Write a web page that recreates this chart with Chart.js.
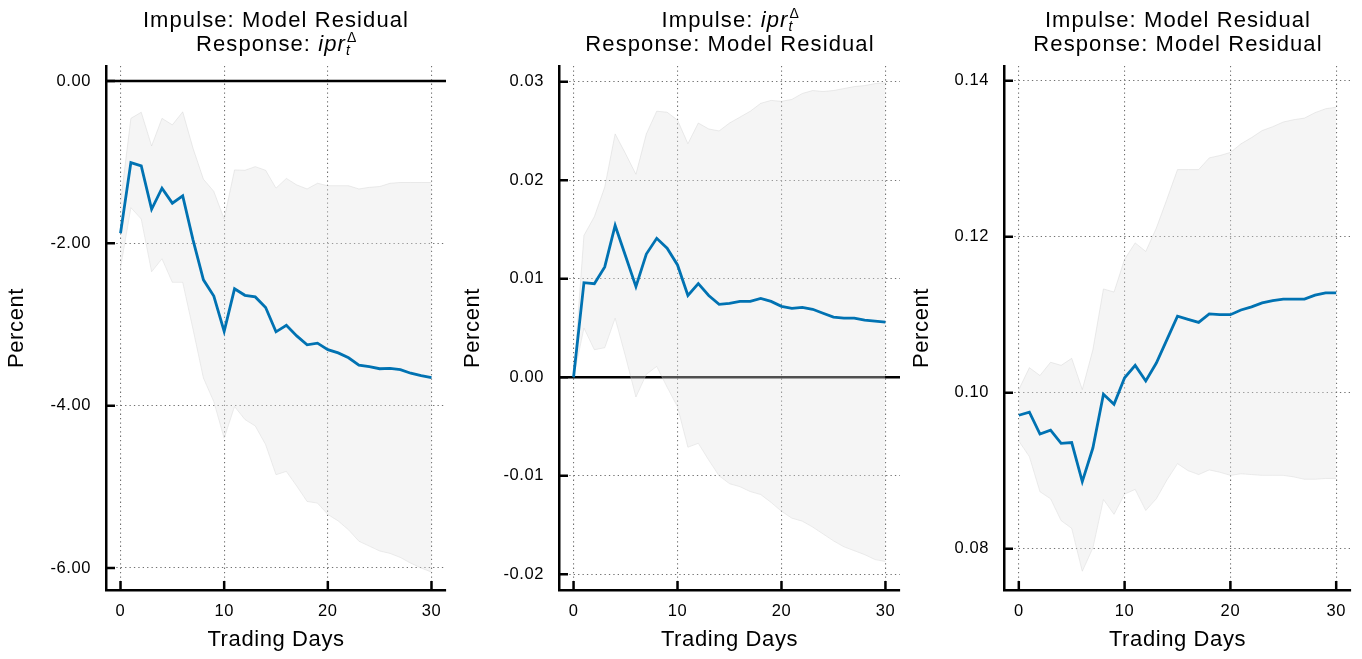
<!DOCTYPE html>
<html>
<head>
<meta charset="utf-8">
<script src="https://cdn.jsdelivr.net/npm/chart.js@4.4.1/dist/chart.umd.min.js"></script>
<style>
  html, body { margin: 0; padding: 0; background: #fff; }
  body { width: 1362px; height: 659px; position: relative; overflow: hidden; font-family: 'Liberation Sans', Arial, Helvetica, sans-serif; }
  canvas { position: absolute; top: 0; }
  .title { position: absolute; top: 8px; width: 420px; text-align: center; font-size: 22px; line-height: 24px; letter-spacing: 1.1px; color: #000; white-space: nowrap; }
  .ss { position: relative; display: inline-block; width: 10px; height: 0; }
  .ss span { position: absolute; left: 0; font-size: 14px; line-height: 14px; letter-spacing: 0; }
  .ss .sup { top: -21px; left: 1px; }
  .ss .sub { top: -8px; font-style: italic; }
</style>
</head>
<body>
<canvas id="c1" width="456" height="659" style="left:0px"></canvas>
<canvas id="c2" width="454" height="659" style="left:456px"></canvas>
<canvas id="c3" width="457" height="659" style="left:905px"></canvas>

<div class="title" style="left:66px">Impulse: Model Residual<br>Response: <i>ipr</i><span class="ss"><span class="sup">Δ</span><span class="sub">t</span></span></div>
<div class="title" style="left:520px">Impulse: <i>ipr</i><span class="ss"><span class="sup">Δ</span><span class="sub">t</span></span><br>Response: Model Residual</div>
<div class="title" style="left:968px">Impulse: Model Residual<br>Response: Model Residual</div>

<script>
// horizon (trading days)
const days = [0,1,2,3,4,5,6,7,8,9,10,11,12,13,14,15,16,17,18,19,20,21,22,23,24,25,26,27,28,29,30];
const xTicks = [0, 10, 20, 30];

// Panel 1: impulse residual -> response ipr
const resp1  = [-1.875,-1.005,-1.046,-1.58,-1.32,-1.505,-1.415,-1.96,-2.45,-2.65,-3.085,-2.56,-2.64,-2.66,-2.79,-3.09,-3.01,-3.14,-3.25,-3.23,-3.31,-3.35,-3.41,-3.50,-3.52,-3.545,-3.54,-3.555,-3.60,-3.63,-3.655];
const upper1 = [-1.5,-0.46,-0.385,-0.80,-0.46,-0.54,-0.38,-0.83,-1.21,-1.36,-1.70,-1.095,-1.10,-1.055,-1.10,-1.32,-1.20,-1.28,-1.33,-1.26,-1.29,-1.29,-1.29,-1.33,-1.31,-1.30,-1.26,-1.25,-1.25,-1.25,-1.25];
const lower1 = [-2.3,-1.56,-1.70,-2.35,-2.19,-2.48,-2.48,-3.06,-3.66,-3.95,-4.40,-4.01,-4.17,-4.25,-4.48,-4.85,-4.81,-4.99,-5.18,-5.20,-5.34,-5.42,-5.53,-5.67,-5.73,-5.79,-5.82,-5.87,-5.94,-6.00,-6.05];
const yTicks1 = [-6, -4, -2, 0];

// Panel 2: impulse ipr -> response residual
const resp2  = [0.0,0.0096,0.0095,0.0112,0.0154,0.0123,0.0092,0.0125,0.0141,0.0131,0.0114,0.0083,0.0095,0.0083,0.0074,0.0075,0.0077,0.0077,0.0080,0.0077,0.0072,0.0070,0.0071,0.0069,0.0065,0.0061,0.0060,0.0060,0.0058,0.0057,0.0056];
const upper2 = [0.0,0.0144,0.0163,0.0193,0.0247,0.0227,0.0206,0.0247,0.0270,0.0269,0.0261,0.0237,0.0258,0.0252,0.0250,0.0258,0.0264,0.0270,0.0278,0.0281,0.0280,0.0282,0.0288,0.0291,0.0290,0.0291,0.0293,0.0295,0.0296,0.0298,0.0299];
const lower2 = [0.0,0.0050,0.0028,0.0030,0.0060,0.0021,-0.0020,0.0003,0.0011,-0.0010,-0.0030,-0.0071,-0.0067,-0.0084,-0.0100,-0.0108,-0.0111,-0.0116,-0.0119,-0.0127,-0.0136,-0.0143,-0.0146,-0.0152,-0.0159,-0.0166,-0.0172,-0.0176,-0.0180,-0.0185,-0.0187];
const yTicks2 = [-0.02, -0.01, 0, 0.01, 0.02, 0.03];

// Panel 3: impulse residual -> response residual
const resp3  = [0.0971,0.0975,0.0947,0.0952,0.0935,0.0936,0.0886,0.0929,0.0998,0.0985,0.1019,0.1035,0.1015,0.1038,0.1068,0.1098,0.1094,0.1090,0.1101,0.1100,0.1100,0.1106,0.1110,0.1115,0.1118,0.1120,0.1120,0.1120,0.1125,0.1128,0.1128];
const upper3 = [0.1004,0.1032,0.1022,0.1039,0.1035,0.1044,0.1004,0.1055,0.1133,0.1129,0.1171,0.1192,0.1181,0.1211,0.1248,0.1286,0.1286,0.1286,0.1301,0.1304,0.1308,0.1319,0.1327,0.1336,0.1341,0.1347,0.1350,0.1352,0.1359,0.1364,0.1366];
const lower3 = [0.0938,0.0918,0.0873,0.0864,0.0836,0.0826,0.0771,0.0801,0.0863,0.0844,0.0870,0.0876,0.0849,0.0864,0.0888,0.0909,0.0900,0.0895,0.0901,0.0898,0.0894,0.0896,0.0895,0.0894,0.0894,0.0894,0.0892,0.0889,0.0889,0.0890,0.0890];
const yTicks3 = [0.08, 0.10, 0.12, 0.14];

const FONT = "'Liberation Sans', Arial, Helvetica, sans-serif";
const BLUE = '#0072B2';
const BAND = 'rgba(225,225,225,0.35)';

const pts = (ys) => days.map((d, i) => ({ x: d, y: ys[i] }));

// canvas letter spacing, text in the reference is wide
const spacing = {
  id: 'spacing',
  beforeUpdate(c) { c.ctx.letterSpacing = '0.6px'; },
  beforeDraw(c) { c.ctx.letterSpacing = '0.6px'; }
};

// horizontal zero line, under the band
const zeroLine = {
  id: 'zeroLine',
  beforeDatasetsDraw(c) {
    const y = c.scales.y, a = c.chartArea;
    if (y.min > 0 || y.max < 0) return;
    const py = y.getPixelForValue(0);
    const ctx = c.ctx;
    ctx.save();
    ctx.strokeStyle = '#000';
    ctx.lineWidth = 2.5;
    ctx.beginPath();
    ctx.moveTo(a.left, py);
    ctx.lineTo(a.right, py);
    ctx.stroke();
    ctx.restore();
  }
};

// tick marks pointing into the plot
const innerTicks = {
  id: 'innerTicks',
  afterDraw(c) {
    const ctx = c.ctx, a = c.chartArea, len = 9;
    ctx.save();
    ctx.strokeStyle = '#000';
    ctx.lineWidth = 2.5;
    ctx.beginPath();
    c.scales.x.ticks.forEach(t => {
      const px = c.scales.x.getPixelForValue(t.value);
      ctx.moveTo(px, a.bottom);
      ctx.lineTo(px, a.bottom - len);
    });
    c.scales.y.ticks.forEach(t => {
      const py = c.scales.y.getPixelForValue(t.value);
      ctx.moveTo(a.left, py);
      ctx.lineTo(a.left + len, py);
    });
    ctx.stroke();
    ctx.restore();
  }
};

function makePanel(id, resp, upper, lower, yTicks, yMin, yMax, yWidth, rightPad) {
  const grid = { color: '#707070', lineWidth: 1.1, drawTicks: false };
  const border = { color: '#000', width: 2.5, dash: [1.3, 3.1] };
  return new Chart(document.getElementById(id), {
    type: 'line',
    data: {
      datasets: [
        { data: pts(resp), borderColor: BLUE, borderWidth: 2.8, pointRadius: 0, tension: 0, fill: false },
        { data: pts(upper), borderColor: 'rgba(200,200,200,0.35)', borderWidth: 1, pointRadius: 0, tension: 0, fill: '+1', backgroundColor: BAND },
        { data: pts(lower), borderColor: 'rgba(200,200,200,0.35)', borderWidth: 1, pointRadius: 0, tension: 0, fill: false }
      ]
    },
    options: {
      responsive: false,
      animation: false,
      events: [],
      layout: { padding: { top: 66, right: rightPad, left: 0, bottom: 0 } },
      plugins: { legend: { display: false }, tooltip: { enabled: false } },
      scales: {
        x: {
          type: 'linear', min: -1.4, max: 31.4,
          afterBuildTicks: s => { s.ticks = xTicks.map(v => ({ value: v })); },
          afterFit: s => { s.height = 69; s.paddingLeft = 0; s.paddingRight = 0; },
          grid, border,
          ticks: { color: '#000', font: { family: FONT, size: 16.5 }, padding: 12, maxRotation: 0, autoSkip: false, callback: v => String(v) },
          title: { display: true, text: 'Trading Days', color: '#000', font: { family: FONT, size: 22 }, padding: { top: 0, bottom: 5.8 } }
        },
        y: {
          type: 'linear', min: yMin, max: yMax,
          afterBuildTicks: s => { s.ticks = yTicks.map(v => ({ value: v })); },
          afterFit: s => { s.width = yWidth; s.paddingTop = 0; s.paddingBottom = 0; },
          grid, border,
          ticks: { color: '#000', font: { family: FONT, size: 16.5 }, padding: 15, autoSkip: false, callback: v => v.toFixed(2) },
          title: { display: true, text: 'Percent', color: '#000', font: { family: FONT, size: 22 }, padding: { top: 3.3, bottom: 0 } }
        }
      }
    },
    plugins: [spacing, zeroLine, innerTicks]
  });
}

makePanel('c1', resp1, upper1, lower1, yTicks1, -6.271, 0.185, 106, 10);
makePanel('c2', resp2, upper2, lower2, yTicks2, -0.02159, 0.03159, 103, 10);
makePanel('c3', resp3, upper3, lower3, yTicks3, 0.0747, 0.14188, 99, 11);
</script>
</body>
</html>
